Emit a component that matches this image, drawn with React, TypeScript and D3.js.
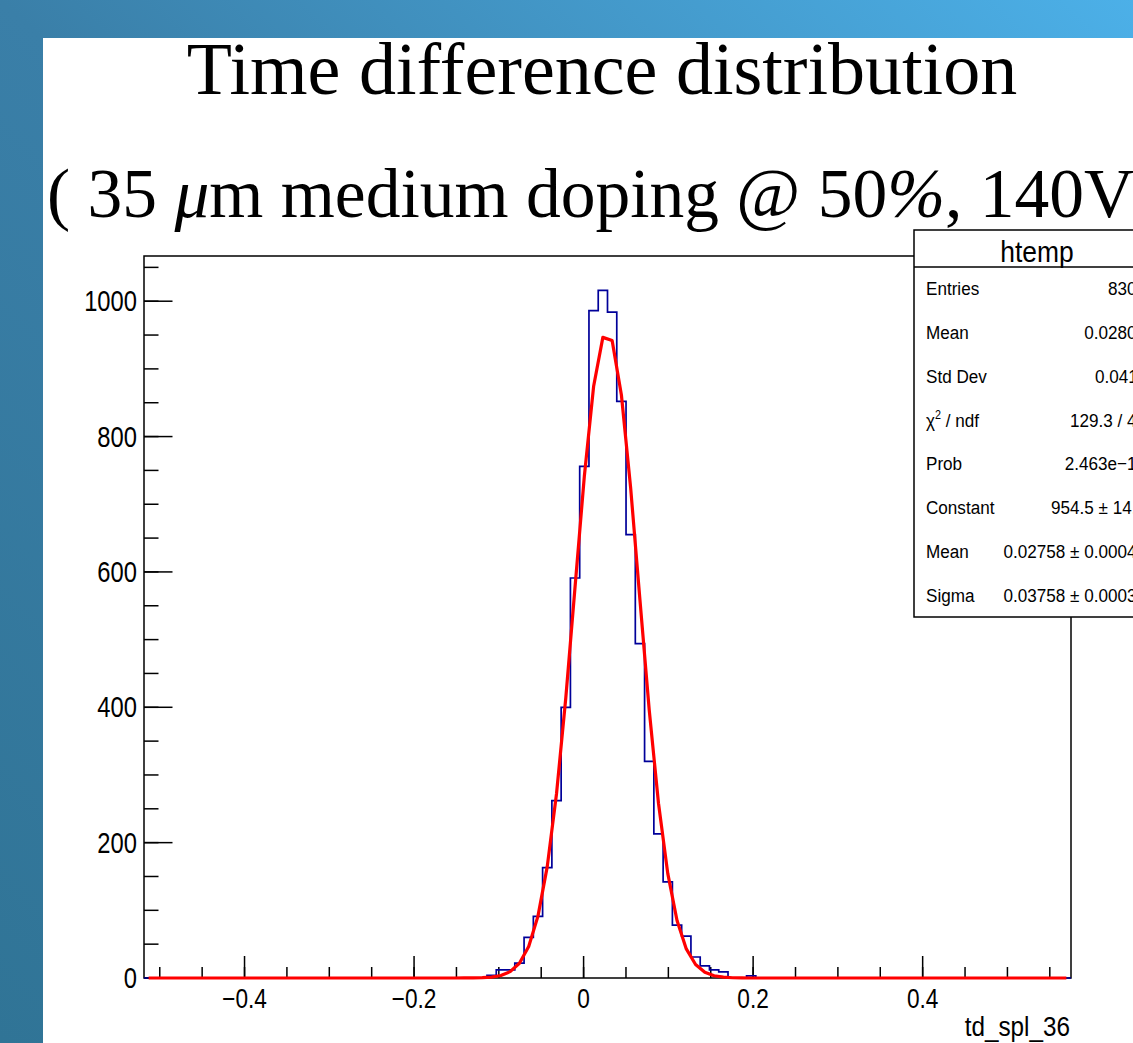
import React from "react";
import * as d3 from "d3";

// ---- data ----
const xDomain = [-0.5186, 0.575];
const nBins = 100;
const firstBin = 37;
const counts = [4, 12, 12, 22, 60, 91, 163, 262, 400, 591, 756, 986, 1016, 984, 852, 655, 494, 320, 213, 142, 78, 62, 31, 18, 12, 9, 0, 0, 3];
const yMax = 1066.8;
const xMajorTicks = [-0.4, -0.2, 0, 0.2, 0.4];
const xTickLabels = ["\u22120.4", "\u22120.2", "0", "0.2", "0.4"];
const yMajorTicks = [0, 200, 400, 600, 800, 1000];
const fitConstant = 954.5;
const fitMean = 0.02758;
const fitSigma = 0.03758;
const statLabels = ["Entries", "Mean", "Std Dev", "chi", "Prob", "Constant", "Mean", "Sigma"];
const statValues = ["8302", "0.02807", "0.0411", "129.3 / 42", "2.463e\u221210", "954.5 \u00b1 14.1", "0.02758 \u00b1 0.00042", "0.03758 \u00b1 0.00034"];

const W = 1133;
const H = 1043;
const frame = { left: 144, right: 1071, top: 256, bottom: 978 };

export default function App() {
  React.useEffect(() => {
    document.body.style.margin = "0";
    document.body.style.overflow = "hidden";
  }, []);

  const x = d3.scaleLinear().domain(xDomain).range([frame.left, frame.right]);
  const y = d3.scaleLinear().domain([0, yMax]).range([frame.bottom, frame.top]);
  const bw = (xDomain[1] - xDomain[0]) / nBins;

  const allCounts: number[] = d3.range(nBins).map((i) => {
    const k = i - firstBin;
    return k >= 0 && k < counts.length ? counts[k] : 0;
  });

  let stepD = `M${x(xDomain[0])},${y(0)}`;
  allCounts.forEach((c, i) => {
    const x0 = x(xDomain[0] + i * bw);
    const x1 = x(xDomain[0] + (i + 1) * bw);
    stepD += `L${x0},${y(c)}L${x1},${y(c)}`;
  });
  stepD += `L${x(xDomain[1])},${y(0)}`;

  const gauss = (v: number) => fitConstant * Math.exp(-0.5 * ((v - fitMean) / fitSigma) ** 2);
  const fitPts: [number, number][] = d3.range(nBins).map((i) => {
    const c = xDomain[0] + (i + 0.5) * bw;
    return [x(c), y(gauss(c))];
  });
  const fitLine = d3.line()(fitPts) || "";

  const xMinor = d3.range(-0.5, 0.5751, 0.05).filter((v) => v >= xDomain[0] && v <= xDomain[1]);
  const yMinor = d3.range(0, yMax, 50);

  const axisFont = "'Liberation Sans', Arial, sans-serif";
  const sx = 0.84;

  const boxL = 914;
  const boxTop = 230;
  const sep = 267;
  const boxBottom = 617;
  const rowH = (boxBottom - sep) / statLabels.length;

  return (
    <svg width={W} height={H} style={{ display: "block" }}>
      <defs>
        <linearGradient id="bg" x1="0" y1="1" x2="1" y2="0">
          <stop offset="0" stopColor="#307496" />
          <stop offset="0.5" stopColor="#3a7fa8" />
          <stop offset="1" stopColor="#4cb0e8" />
        </linearGradient>
      </defs>
      <rect x={0} y={0} width={W} height={H} fill="url(#bg)" />
      <rect x={43} y={38} width={W - 43} height={H - 38} fill="#ffffff" />

      {/* title */}
      <text x={602} y={94} textAnchor="middle" fontFamily="'Liberation Serif', 'Times New Roman', serif" fontSize={74} fill="#000">
        Time difference distribution
      </text>
      <text x={47} y={217} fontFamily="'Liberation Serif', 'Times New Roman', serif" fontSize={69.5} fill="#000">
        <tspan>( 35 </tspan>
        <tspan fontStyle="italic">{"\u03bc"}</tspan>
        <tspan>m medium doping @ 50</tspan>
        <tspan fontStyle="italic">%</tspan>
        <tspan>, 140V)</tspan>
      </text>

      {/* frame */}
      <rect x={frame.left} y={frame.top} width={frame.right - frame.left} height={frame.bottom - frame.top} fill="none" stroke="#000" strokeWidth={1.5} />

      {/* x ticks */}
      {xMinor.map((v, i) => (
        <line key={"xm" + i} x1={x(v)} x2={x(v)} y1={frame.bottom} y2={frame.bottom - 11} stroke="#000" strokeWidth={1.5} />
      ))}
      {xMajorTicks.map((v, i) => (
        <g key={"xM" + i}>
          <line x1={x(v)} x2={x(v)} y1={frame.bottom} y2={frame.bottom - 22} stroke="#000" strokeWidth={1.5} />
          <text transform={`translate(${x(v)},${1008}) scale(${sx},1)`} textAnchor="middle" fontFamily={axisFont} fontSize={27} fill="#000">
            {xTickLabels[i]}
          </text>
        </g>
      ))}
      {/* y ticks */}
      {yMinor.map((v, i) => (
        <line key={"ym" + i} x1={frame.left} x2={frame.left + 14.5} y1={y(v)} y2={y(v)} stroke="#000" strokeWidth={1.5} />
      ))}
      {yMajorTicks.map((v, i) => (
        <g key={"yM" + i}>
          <line x1={frame.left} x2={frame.left + 28.5} y1={y(v)} y2={y(v)} stroke="#000" strokeWidth={1.5} />
          <text transform={`translate(${137},${y(v) + 10}) scale(${0.82},1)`} textAnchor="end" fontFamily={axisFont} fontSize={29} fill="#000">
            {String(v)}
          </text>
        </g>
      ))}
      <text transform={`translate(${1070},${1036}) scale(0.9,1)`} textAnchor="end" fontFamily={axisFont} fontSize={27} fill="#000">
        td_spl_36
      </text>

      {/* histogram */}
      <path d={stepD} fill="none" stroke="#000099" strokeWidth={1.7} />
      {/* fit */}
      <path d={fitLine} fill="none" stroke="#ff0000" strokeWidth={3.2} strokeLinejoin="round" />

      {/* stats box */}
      <rect x={boxL} y={boxTop} width={W} height={boxBottom - boxTop} fill="#fff" stroke="#000" strokeWidth={1.5} />
      <line x1={boxL} x2={W} y1={sep} y2={sep} stroke="#000" strokeWidth={1.5} />
      <text transform={`translate(${1037},${262}) scale(0.88,1)`} textAnchor="middle" fontFamily={axisFont} fontSize={30} fill="#000">
        htemp
      </text>
      {statLabels.map((lab, i) => {
        const cy = sep + rowH * (i + 0.5) + 6.5;
        return (
          <g key={"st" + i}>
            <text transform={`translate(${926},${cy}) scale(0.9,1)`} fontFamily={axisFont} fontSize={19} fill="#000">
              {lab === "chi" ? (
                <>
                  <tspan>{"\u03c7"}</tspan>
                  <tspan fontSize={12} dy={-8}>2</tspan>
                  <tspan dy={8}>{" / ndf"}</tspan>
                </>
              ) : (
                lab
              )}
            </text>
            <text transform={`translate(${1146},${cy}) scale(0.9,1)`} textAnchor="end" fontFamily={axisFont} fontSize={19} fill="#000">
              {statValues[i]}
            </text>
          </g>
        );
      })}
    </svg>
  );
}
